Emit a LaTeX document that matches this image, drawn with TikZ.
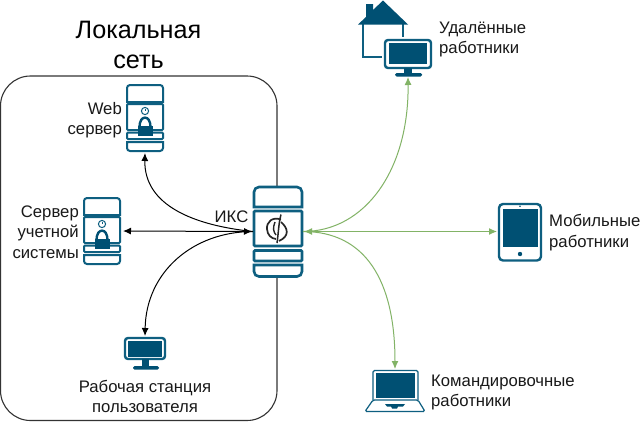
\documentclass[tikz,border=0pt]{standalone}
\usepackage{fontspec}
\setmainfont{Liberation Sans}
\usetikzlibrary{arrows.meta}
\definecolor{iconblue}{HTML}{005073}
\definecolor{iconline}{HTML}{0E5F80}
\definecolor{linkgreen}{HTML}{82B366}
\tikzset{
  lbl/.style={inner sep=0pt,font=\fontsize{16.7}{20.5}\selectfont,text=black!90},
  hold/.style={inner sep=0pt,outer sep=0pt,minimum width=#1},
  srvpart/.style={draw=iconline,line width=2pt,rounded corners=1pt},
  wired/.style={black,line width=1pt,{Latex[length=8pt,width=7pt]}-{Latex[length=8pt,width=7pt]}},
  wiredone/.style={black,line width=1pt,-{Latex[length=8pt,width=7pt]}},
  wireless/.style={linkgreen,line width=1pt,-{Latex[length=8pt,width=7pt]}},
  wirelessboth/.style={linkgreen,line width=1pt,{Latex[length=8pt,width=7pt]}-{Latex[length=8pt,width=7pt]}},
  server/.pic={
    \draw[iconline,line width=2pt] (0,17) [rounded corners=3pt] -- (0,0) -- (36,0) [sharp corners] -- (36,17) -- cycle;
    \draw[srvpart] (0,19) rectangle (36,45);
    \draw[srvpart] (0,47.5) rectangle (36,54);
    \draw[iconline,line width=2pt] (0,57) -- (36,57) [rounded corners=3pt] -- (36,66) -- (0,66) [sharp corners] -- cycle;
    \draw[iconline,line width=1pt] (18,26) circle (3.6);
    \draw[iconline,line width=0.7pt] (18,24) -- (18,26);
    \draw[iconblue,line width=2.4pt] (12.5,42) .. controls (12.5,29.5) and (23.5,29.5) .. (23.5,42);
    \fill[iconblue] (10.5,41) rectangle (25.5,51);
  },
}
\begin{document}
\begin{tikzpicture}[x=1pt,y=-1pt]
\useasboundingbox (0,0) rectangle (640,421);
\fill[white] (0,0) rectangle (640,421);
% LAN frame
\draw[black!80,line width=1.1pt,rounded corners=30pt] (0.5,76) rectangle (277,420.5);
\node[inner sep=0pt,font=\fontsize{25.2}{30}\selectfont,align=center,text=black] (lantitle) at (138.5,45) {Локальная\\сеть};
% icon holders
\node[hold=36pt,minimum height=66pt] (web) at (145,118) {};
\node[hold=38pt,minimum height=66pt] (acc) at (102,231) {};
\node[hold=50pt,minimum height=91pt] (iks) at (278,231.5) {};
\node[hold=42pt,minimum height=32pt] (pc) at (145,353) {};
\node[hold=48pt,minimum height=37pt] (remote) at (408,57.5) {};
\node[hold=44pt,minimum height=58pt] (tablet) at (520,231.5) {};
\node[hold=60pt,minimum height=42pt] (laptop) at (395,391) {};
% servers
\pic at (127,85) {server};
\pic at (84,198) {server};
% IKS
\fill[white] (253,186) rectangle (303,277);
\draw[iconline,line width=2.6pt] (254,207) [rounded corners=5pt] -- (254,187) -- (302,187) [sharp corners] -- (302,207) -- cycle;
\draw[srvpart,line width=2.6pt] (254,211) rectangle (302,246);
\draw[srvpart,line width=2.6pt] (254,250.5) rectangle (302,261);
\draw[iconline,line width=2.6pt] (254,265) -- (302,265) [rounded corners=5pt] -- (302,276.5) -- (254,276.5) [sharp corners] -- cycle;
\draw[black!85,line width=1.7pt] (281,219.5) .. controls (272,216.5) and (266.5,222) .. (267,229) .. controls (267.5,235) and (271,238.5) .. (276,239);
\draw[black!85,line width=1.7pt] (281,222) .. controls (288,228) and (290,236) .. (279,241);
\draw[black!85,line width=1.5pt] (281,214.5) .. controls (278.5,224) and (278.5,233) .. (277,243);
\draw[black!85,line width=1.4pt] (275,222) .. controls (272.5,228) and (273.5,232) .. (276,235);
% house + monitor
\draw[iconline,line width=2pt] (363,24) -- (363,57) -- (386,57);
\draw[iconline,line width=2pt] (403,24) -- (403,40);
\fill[iconblue] (358,24.5) -- (366,17) -- (366,4) -- (373,4) -- (373,10) -- (383,0.5) -- (408,24.5) -- cycle;
\fill[white] (382,37) rectangle (434,70);
\draw[iconline,line width=2.4pt,rounded corners=3pt] (385,40) rectangle (431,68);
\fill[iconblue] (389,43) rectangle (427,63.5);
\fill[iconblue] (404,68) rectangle (412,73);
\fill[iconblue,rounded corners=1.5pt] (395,73) rectangle (422,76.5);
% tablet
\draw[iconline,line width=2.4pt,rounded corners=4pt] (499,204) rectangle (541,260.5);
\fill[iconblue] (502.5,209) rectangle (538,247);
\fill[iconblue] (520,254) circle (2.2);
\fill[iconblue] (520,206.3) circle (0.9);
% laptop
\draw[iconline,line width=1.2pt,rounded corners=1.5pt] (373,400) -- (373,370.5) -- (418,370.5) -- (418,400);
\fill[iconblue] (375.5,373) rectangle (415,398);
\draw[iconline,line width=1.2pt,rounded corners=1.5pt] (373,400) -- (418,400) -- (425,411.5) -- (365,411.5) -- cycle;
\fill[iconblue] (385,404) -- (405,404) -- (403,406.5) -- (398,406.5) -- (397,408.5) -- (392,408.5) -- (391,406.5) -- (387,406.5) -- cycle;
% workstation
\draw[iconline,line width=2.4pt,rounded corners=3pt] (125,338) rectangle (165,359);
\fill[iconblue] (128,341) rectangle (162,356.5);
\fill[iconblue] (142,359) rectangle (149,366);
\fill[iconblue,rounded corners=1.5pt] (133,366) rectangle (159,369.5);
% connectors
\draw[wiredone,shorten >=2pt] (iks.west) .. controls +(-58,-6) and (144,206) .. (web.south);
\draw[wired,shorten <=1pt,shorten >=2pt] (iks.west) -- (acc.east);
\draw[wiredone,shorten >=1pt] (iks.west) .. controls +(-60,0) and (146,272) .. (pc.north);
\draw[wireless,shorten >=1pt] (iks.east) .. controls +(62,0) and (409,170) .. (remote.south);
\draw[wirelessboth,shorten <=1pt,shorten >=1pt] (iks.east) -- (tablet.west);
\draw[wireless,shorten >=1pt] (iks.east) .. controls +(62,0) and (395,280) .. (laptop.north);
% labels
\node[lbl,align=right,anchor=east] (weblbl) at (122,120) {Web\\сервер};
\node[lbl,align=right,anchor=east] (acclbl) at (79,232) {Сервер\\учетной\\системы};
\node[lbl,anchor=center] (ikslbl) at (231.5,217) {ИКС};
\node[lbl,align=center] (pclbl) at (145,396.5) {Рабочая станция\\пользователя};
\node[lbl,align=left,anchor=west] (remotelbl) at (439,39.5) {Удалённые\\работники};
\node[lbl,align=left,anchor=west] (tabletlbl) at (549,232.5) {Мобильные\\работники};
\node[lbl,align=left,anchor=west] (laptoplbl) at (431,392.5) {Командировочные\\работники};
\end{tikzpicture}
\end{document}
